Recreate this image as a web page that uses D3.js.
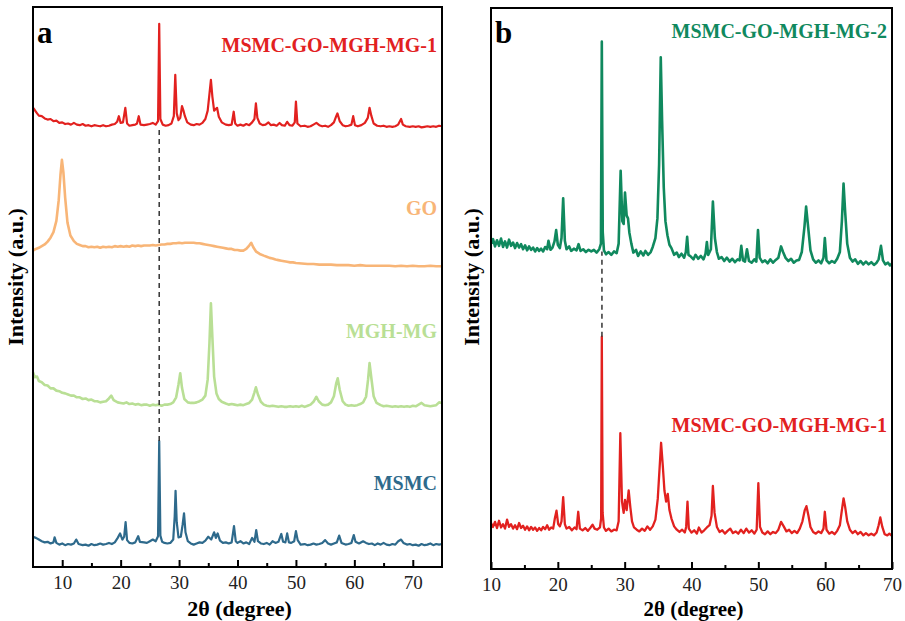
<!DOCTYPE html>
<html>
<head>
<meta charset="utf-8">
<script src="https://cdn.jsdelivr.net/npm/d3@7"></script>
<style>
  body { margin: 0; background: #fff; }
  svg { display: block; }
</style>
</head>
<body>
<div id="chart"></div>
<script>
// ---- data (2θ in degrees, intensity in stacked a.u.) ----
const msmc = [[5,5.4],[5.5,5.2],[6,4.9],[6.5,4.6],[7,4.4],[7.5,4.5],[8,4.2],[8.5,4.4],[8.7,5.3],[9,4.3],[9.5,4.0],[10,4.2],[10.5,3.9],[11,4.1],[11.5,4.0],[12,4.2],[12.4,4.9],[12.8,4.1],[13.5,3.9],[14,4.0],[14.5,3.8],[15,4.1],[15.5,3.9],[16,4.0],[16.5,4.2],[17,4.0],[17.5,4.1],[18,4.3],[18.5,4.1],[19,4.4],[19.5,5.2],[19.9,6.0],[20.3,4.9],[20.6,5.4],[20.85,8.0],[21.1,4.8],[21.5,4.3],[22,4.2],[22.5,4.4],[23,5.5],[23.3,4.5],[24,4.4],[24.5,4.3],[25,4.6],[25.5,4.9],[26,4.6],[26.4,5.5],[26.6,22.5],[26.8,5.6],[27.1,4.5],[27.5,4.3],[28,4.2],[28.5,4.3],[29,4.9],[29.25,9],[29.4,13.6],[29.6,8],[29.9,5.3],[30.3,5.4],[30.6,7.5],[30.85,9.6],[31.1,6.2],[31.5,4.6],[32,4.2],[32.5,4.0],[33,4.2],[33.5,4.4],[34,4.3],[34.5,4.7],[35,5.4],[35.5,4.9],[36,6.2],[36.3,5.2],[36.6,6.0],[37,4.7],[37.5,4.3],[38,4.4],[38.5,4.2],[39,4.4],[39.4,7.3],[39.7,4.6],[40,4.3],[40.5,4.6],[41,4.2],[41.5,4.4],[42,4.1],[42.5,5.2],[42.9,4.5],[43.2,6.6],[43.5,4.6],[44,4.2],[44.5,4.1],[45,4.3],[45.5,4.0],[46,4.6],[46.5,4.3],[47,4.5],[47.5,5.9],[47.8,4.5],[48.2,4.4],[48.5,6.0],[48.8,4.4],[49.2,4.3],[49.7,4.6],[50,6.4],[50.3,4.8],[50.8,4.0],[51.5,4.1],[52,3.9],[52.5,4.0],[53,4.2],[53.5,4.0],[54,4.1],[54.5,4.3],[55,4.8],[55.5,4.2],[56,4.0],[56.5,4.2],[57,4.4],[57.4,5.6],[57.8,4.3],[58.5,4.0],[59,4.1],[59.5,4.3],[59.9,5.7],[60.2,4.5],[60.8,4.2],[61.5,4.6],[62,4.3],[62.5,4.1],[63,4.2],[63.5,3.9],[64,4.2],[64.5,4.0],[65,4.3],[65.5,4.0],[66,3.9],[66.5,4.1],[67,4.0],[67.5,4.6],[68,4.9],[68.4,4.3],[69,4.0],[69.5,4.1],[70,3.9],[70.5,4.0],[71,3.8],[71.5,4.1],[72,3.9],[72.5,4.0],[73,4.2],[73.5,3.9],[74,4.1],[74.5,4.0],[75,4.1]];

const mghMg = [[5,34.8],[5.3,33.9],[5.7,34.0],[6,33.2],[6.5,33.0],[7,32.5],[7.5,32.4],[8,31.9],[8.5,31.9],[9,31.5],[9.5,31.4],[10,31.1],[10.5,31.0],[11,30.8],[11.5,30.6],[12,30.6],[12.5,30.3],[13,30.3],[13.5,30.0],[14,30.1],[14.5,29.8],[15,29.9],[15.5,29.6],[16,29.6],[16.5,29.4],[17,29.5],[17.5,29.6],[18,30.1],[18.4,30.6],[18.8,29.8],[19.5,29.4],[20,29.3],[20.5,29.2],[21,29.4],[21.5,29.1],[22,29.2],[22.5,29.0],[23,29.1],[23.5,28.9],[24,29.0],[24.5,29.0],[25,28.8],[25.5,29.0],[26,28.9],[26.5,29.0],[27,28.8],[27.5,29.0],[28,29.0],[28.5,29.1],[29,29.4],[29.5,30.3],[29.9,32.6],[30.2,34.6],[30.5,32.0],[30.9,30.0],[31.5,29.4],[32,29.3],[32.5,29.3],[33,29.4],[33.5,29.6],[34,29.9],[34.5,30.6],[34.9,33.5],[35.2,40.0],[35.45,47.1],[35.7,41.0],[36,34.0],[36.4,31.0],[36.8,30.0],[37.3,29.5],[38,29.2],[38.5,29.0],[39,29.1],[39.5,29.0],[40,28.9],[40.5,29.0],[41,28.9],[41.5,29.1],[42,29.3],[42.5,29.9],[42.9,31.2],[43.15,32.1],[43.5,30.8],[44,29.5],[44.5,29.0],[45,28.8],[45.5,28.7],[46,28.8],[46.5,28.7],[47,28.6],[47.5,28.7],[48,28.6],[48.5,28.6],[49,28.7],[49.5,28.6],[50,28.7],[50.5,28.6],[51,28.8],[51.5,28.6],[52,28.8],[52.5,29.0],[53,29.5],[53.5,30.4],[53.9,29.6],[54.5,29.0],[55,28.9],[55.5,29.0],[56,29.4],[56.5,30.5],[56.9,32.8],[57.15,33.7],[57.5,31.6],[58,29.6],[58.5,29.0],[59,28.8],[59.5,28.9],[60,28.8],[60.5,28.9],[61,29.1],[61.5,29.4],[62,30.4],[62.35,33.5],[62.6,36.4],[62.9,33.8],[63.3,30.5],[63.8,29.3],[64.5,28.9],[65,28.7],[65.5,28.8],[66,28.7],[66.5,28.6],[67,28.7],[67.5,28.6],[68,28.7],[68.5,28.6],[69,28.7],[69.5,28.6],[70,28.8],[70.5,28.7],[71,29.0],[71.5,29.3],[72,28.9],[72.5,28.8],[73,28.7],[73.5,28.8],[74,28.9],[74.5,29.4],[75,29.3]];

const go = [[5,56.5],[5.5,56.8],[6,57.0],[6.5,57.3],[7,57.6],[7.5,58.1],[8,58.8],[8.5,59.8],[9,61.8],[9.4,65.5],[9.7,70.0],[9.95,72.7],[10.2,70.5],[10.5,66.0],[10.9,61.5],[11.4,59.2],[12,58.2],[12.5,57.7],[13,57.5],[13.5,57.3],[14,57.3],[14.5,57.1],[15,57.2],[15.5,57.1],[16,57.2],[16.5,57.0],[17,57.2],[17.5,57.1],[18,57.2],[18.5,57.1],[19,57.3],[19.5,57.2],[20,57.3],[20.5,57.2],[21,57.3],[21.5,57.2],[22,57.4],[22.5,57.3],[23,57.4],[23.5,57.3],[24,57.4],[24.5,57.4],[25,57.4],[25.5,57.5],[26,57.4],[26.5,57.5],[27,57.6],[27.5,57.6],[28,57.7],[28.5,57.7],[29,57.8],[29.5,57.8],[30,57.9],[30.5,57.8],[31,57.9],[31.5,57.9],[32,57.9],[32.5,57.9],[33,57.8],[33.5,57.8],[34,57.7],[34.5,57.6],[35,57.5],[35.5,57.4],[36,57.3],[36.5,57.2],[37,57.1],[37.5,57.0],[38,56.9],[38.5,56.8],[39,56.8],[39.5,56.6],[40,56.6],[40.5,56.5],[41,56.5],[41.5,56.8],[42,57.4],[42.35,57.9],[42.7,57.1],[43.2,56.3],[43.8,55.9],[44.5,55.6],[45,55.4],[45.5,55.2],[46,55.1],[46.5,54.9],[47,54.8],[47.5,54.7],[48,54.6],[48.5,54.5],[49,54.4],[49.5,54.4],[50,54.3],[51,54.2],[52,54.1],[53,54.1],[54,54.0],[55,54.0],[56,54.0],[57,53.9],[58,53.9],[59,53.9],[60,53.8],[61,53.9],[62,53.8],[63,53.8],[64,53.8],[65,53.8],[66,53.8],[67,53.7],[68,53.8],[69,53.7],[70,53.8],[71,53.7],[72,53.7],[73,53.8],[74,53.7],[75,53.7]];

const mg1a = [[5,82.0],[5.3,81.6],[5.7,81.0],[6,80.6],[6.5,80.5],[7,80.1],[7.5,79.9],[8,80.0],[8.5,79.6],[9,79.7],[9.5,79.3],[10,79.4],[10.5,79.1],[11,79.2],[11.5,79.0],[12,79.3],[12.5,79.0],[13,78.9],[13.5,79.1],[14,78.8],[14.5,78.9],[15,78.7],[15.5,78.9],[16,78.8],[16.5,78.7],[17,78.9],[17.5,78.7],[18,78.8],[18.5,79.0],[19,79.1],[19.4,79.5],[19.7,80.5],[20,79.3],[20.4,79.4],[20.8,82.0],[21.1,79.2],[21.5,78.8],[22,78.9],[22.5,79.0],[22.8,79.2],[23.1,80.5],[23.4,79.0],[24,78.9],[24.5,79.0],[25,79.1],[25.5,79.3],[26,79.0],[26.4,79.6],[26.6,97.0],[26.8,80.0],[27.2,79.0],[27.7,78.8],[28.2,78.9],[28.7,79.2],[29.1,80.5],[29.35,87.9],[29.6,81.0],[29.9,79.8],[30.2,80.2],[30.5,82.3],[30.75,81.5],[31,80.5],[31.4,79.4],[32,79.0],[32.5,78.9],[33,79.1],[33.5,79.0],[34,79.3],[34.5,80.0],[34.9,81.5],[35.2,84.5],[35.45,87.0],[35.7,84.0],[36,81.5],[36.5,82.0],[36.8,80.4],[37.3,79.4],[38,79.0],[38.5,78.9],[39,79.0],[39.35,81.3],[39.6,79.2],[40,78.8],[40.5,79.0],[41,78.8],[41.5,79.1],[42,78.9],[42.5,79.4],[42.9,80.0],[43.15,82.8],[43.4,80.2],[43.8,79.2],[44.3,78.9],[44.8,79.0],[45.3,79.4],[45.7,78.9],[46.2,79.0],[46.7,78.8],[47.2,79.3],[47.6,78.9],[48.1,78.8],[48.5,79.5],[48.9,78.9],[49.4,78.8],[49.8,79.4],[50,83.1],[50.25,79.2],[50.8,78.7],[51.5,78.8],[52,78.6],[52.5,78.7],[53,79.0],[53.5,79.3],[54,78.9],[54.5,78.7],[55,78.8],[55.5,78.6],[56,78.9],[56.5,79.4],[56.9,80.5],[57.1,81.0],[57.5,79.6],[58,78.9],[58.5,78.7],[59,78.8],[59.5,79.0],[59.8,80.5],[60.1,78.9],[60.6,78.7],[61.2,78.9],[61.8,79.3],[62.3,80.2],[62.6,82.0],[62.9,80.6],[63.3,79.2],[63.9,78.8],[64.5,78.7],[65,78.8],[65.5,78.6],[66,78.7],[66.5,78.6],[67,78.7],[67.5,79.0],[68,80.0],[68.3,79.0],[68.8,78.7],[69.5,78.6],[70,78.7],[70.5,78.6],[71,78.7],[71.5,78.5],[72,78.6],[72.5,78.7],[73,78.6],[73.5,78.7],[74,78.6],[74.5,78.8],[75,78.7]];

const mg2b = [[10,58.0],[10.3,58.8],[10.6,57.5],[10.9,58.6],[11.2,57.6],[11.5,58.9],[11.8,57.4],[12.1,58.4],[12.4,57.3],[12.7,58.7],[13,57.6],[13.3,58.2],[13.6,57.2],[13.9,58.1],[14.2,57.3],[14.5,57.9],[14.8,57.0],[15.1,57.7],[15.4,56.8],[15.7,57.5],[16,56.9],[16.3,57.3],[16.6,56.6],[16.9,57.2],[17.2,56.7],[17.5,57.1],[17.8,56.6],[18.1,57.4],[18.4,57.0],[18.6,58.5],[18.9,56.9],[19.2,57.3],[19.5,58.4],[19.75,60.4],[20,57.8],[20.3,57.2],[20.55,59.0],[20.8,66.1],[21.05,58.5],[21.3,57.0],[21.7,57.5],[22,56.7],[22.4,57.1],[22.8,56.8],[23.1,57.9],[23.4,56.7],[23.8,57.0],[24.2,56.5],[24.6,56.9],[25,56.6],[25.4,56.9],[25.8,56.4],[26.2,57.0],[26.45,58],[26.58,94.0],[26.72,60],[26.9,56.8],[27.2,56.1],[27.6,56.5],[28,56.0],[28.4,56.6],[28.8,56.3],[29.1,58.0],[29.4,71.0],[29.65,62.0],[29.85,61.5],[30.05,67.1],[30.3,63.0],[30.5,62.5],[30.7,60.0],[31,58.0],[31.3,56.4],[31.7,56.9],[32,55.8],[32.4,56.6],[32.8,55.9],[33.1,56.7],[33.5,56.0],[33.9,56.5],[34.2,57.4],[34.6,59.0],[34.9,62.5],[35.15,72.0],[35.4,91.2],[35.6,80.0],[35.85,68.0],[36.1,62.0],[36.4,59.5],[36.7,57.8],[37,57.2],[37.4,56.0],[37.8,56.4],[38.1,55.6],[38.5,56.2],[38.9,55.5],[39.15,56.5],[39.35,59.2],[39.55,56.0],[39.9,55.7],[40.3,55.2],[40.6,56.0],[41,55.3],[41.4,55.8],[41.8,55.2],[42.1,56.2],[42.3,58.3],[42.5,56.0],[42.9,57.0],[43.2,65.5],[43.5,59.0],[43.8,56.5],[44.1,55.3],[44.5,55.6],[44.9,54.9],[45.3,55.5],[45.7,54.8],[46.1,55.3],[46.5,54.7],[46.9,55.2],[47.2,55.0],[47.45,57.6],[47.7,55.0],[48,54.8],[48.3,57.0],[48.6,54.9],[49,54.6],[49.4,55.2],[49.7,54.8],[49.95,60.4],[50.2,55.5],[50.6,54.7],[51,55.0],[51.4,54.5],[51.8,55.2],[52.2,54.6],[52.6,55.1],[53,55.5],[53.4,57.5],[53.7,56.5],[54.1,55.4],[54.5,54.9],[54.9,55.3],[55.3,54.6],[55.7,55.0],[56.1,55.1],[56.5,56.5],[56.9,61.0],[57.15,64.6],[57.45,61.0],[57.8,56.8],[58.2,55.2],[58.6,54.6],[59,55.0],[59.4,54.5],[59.75,55.5],[59.95,59.0],[60.2,55.0],[60.6,54.5],[61,54.9],[61.4,54.6],[61.8,55.3],[62.2,56.5],[62.5,62.0],[62.75,68.7],[63,63.5],[63.3,58.0],[63.7,55.5],[64.1,54.8],[64.5,55.2],[64.9,54.4],[65.3,54.9],[65.7,54.3],[66.1,54.8],[66.5,54.3],[66.9,54.7],[67.3,54.2],[67.7,54.6],[68,55.2],[68.35,57.6],[68.65,55.0],[69,54.3],[69.4,54.6],[69.7,54.1],[70,54.5]];

const mg1b = [[10,8.2],[10.3,7.5],[10.6,8.4],[10.9,7.3],[11.2,8.6],[11.5,7.4],[11.8,8.0],[12.1,7.2],[12.4,8.8],[12.7,7.5],[13,8.0],[13.3,7.2],[13.6,7.8],[13.9,7.1],[14.2,8.2],[14.5,7.3],[14.8,7.7],[15.1,7.0],[15.4,7.6],[15.7,6.9],[16,7.5],[16.3,7.0],[16.6,7.4],[16.9,6.8],[17.2,7.3],[17.5,6.9],[17.8,7.5],[18.1,7.1],[18.4,7.8],[18.7,7.0],[19,7.4],[19.3,7.2],[19.55,9.0],[19.8,10.4],[20.05,8.0],[20.3,7.6],[20.55,8.5],[20.8,12.8],[21.05,8.0],[21.3,7.2],[21.7,7.5],[22.1,6.9],[22.5,7.4],[22.8,7.1],[23.05,10.2],[23.3,7.2],[23.7,6.9],[24.1,7.3],[24.5,6.8],[24.9,7.4],[25.2,7.9],[25.5,7.2],[25.9,7.0],[26.3,7.4],[26.48,9],[26.58,41.4],[26.7,10],[26.9,7.4],[27.2,6.8],[27.6,7.2],[28,6.7],[28.4,7.0],[28.8,6.9],[29.1,8.5],[29.35,24.2],[29.6,12.0],[29.85,10.0],[30.05,12.3],[30.3,10.5],[30.6,14.0],[30.85,11.0],[31.1,8.5],[31.4,7.4],[31.8,7.0],[32.2,6.7],[32.6,7.2],[33,6.8],[33.4,7.6],[33.8,7.0],[34.2,7.6],[34.6,8.8],[34.95,12.5],[35.2,17.5],[35.45,22.5],[35.7,18.5],[35.95,14.0],[36.2,12.0],[36.45,13.4],[36.7,10.5],[37,9.0],[37.4,7.6],[37.8,7.0],[38.2,6.6],[38.6,7.0],[39,6.5],[39.2,7.5],[39.4,12.0],[39.6,7.2],[40,6.5],[40.4,6.9],[40.8,6.3],[41.1,7.4],[41.5,6.5],[41.9,6.9],[42.3,7.4],[42.7,7.8],[43,9.5],[43.2,14.8],[43.45,10.0],[43.8,7.5],[44.2,6.6],[44.6,6.9],[45,6.3],[45.4,6.8],[45.8,7.2],[46.2,6.4],[46.6,6.7],[47,6.3],[47.4,7.0],[47.8,6.4],[48.2,7.2],[48.6,6.5],[49,6.9],[49.4,6.3],[49.75,7.0],[50,15.3],[50.25,7.5],[50.6,6.5],[51,6.2],[51.4,6.7],[51.8,6.2],[52.2,6.6],[52.6,6.4],[53,7.0],[53.4,8.4],[53.8,7.6],[54.2,6.7],[54.6,7.0],[55,6.4],[55.4,6.8],[55.8,6.4],[56.2,7.2],[56.6,8.5],[56.95,10.5],[57.2,11.2],[57.5,9.5],[57.8,7.5],[58.2,6.6],[58.6,6.3],[59,6.7],[59.4,6.4],[59.75,7.2],[59.95,10.2],[60.2,7.0],[60.6,6.3],[61,6.6],[61.4,6.2],[61.8,6.8],[62.2,7.8],[62.5,10.5],[62.75,12.6],[63,11.0],[63.3,8.5],[63.7,7.0],[64.1,6.4],[64.5,6.8],[64.9,6.2],[65.3,6.6],[65.7,6.0],[66.1,6.4],[66.5,6.0],[66.9,6.3],[67.3,6.0],[67.7,6.5],[68,7.8],[68.25,9.2],[68.55,7.5],[68.9,6.2],[69.3,6.0],[69.6,6.3],[70,5.9]];

// quartz (26.6°) guide lines: [2θ, from, to]
const guideA = [26.6, 22.5, 78.6];
const guideB = [26.6, 41.4, 56.6];

const ticksA = [10, 20, 30, 40, 50, 60, 70];
const minorA = [15, 25, 35, 45, 55, 65];
const ticksB = [10, 20, 30, 40, 50, 60, 70];
const minorB = [15, 25, 35, 45, 55, 65];

const FONT = "'Liberation Serif'";
const W = 905, H = 621;

const svg = d3.select('#chart').append('svg')
    .attr('width', W)
    .attr('height', H);
svg.append('rect').attr('width', W).attr('height', H).attr('fill', '#fff');

const panels = [
    {
        letter: 'a', box: [33, 442, 7, 567], domain: [5, 75],
        ticks: ticksA, minor: minorA, guide: guideA, yTitleX: 23, titleSize: 22,
        series: [
            { data: msmc, color: '#2e6a8c', width: 2.2, label: 'MSMC', ly: 490 },
            { data: mghMg, color: '#b9df95', width: 2.6, label: 'MGH-MG', ly: 338 },
            { data: go, color: '#f8b577', width: 2.6, label: 'GO', ly: 215 },
            { data: mg1a, color: '#e2211f', width: 2.2, label: 'MSMC-GO-MGH-MG-1', ly: 52 },
        ],
    },
    {
        letter: 'b', box: [491, 892, 8, 569], domain: [10, 70],
        ticks: ticksB, minor: minorB, guide: guideB, yTitleX: 479, titleSize: 21,
        series: [
            { data: mg1b, color: '#e2211f', width: 2.3, label: 'MSMC-GO-MGH-MG-1', ly: 432 },
            { data: mg2b, color: '#10895e', width: 2.6, label: 'MSMC-GO-MGH-MG-2', ly: 38 },
        ],
    },
];

panels.forEach((p) => {
    const [x0, x1, y0, y1] = p.box;
    const x = d3.scaleLinear().domain(p.domain).range([x0, x1]);
    const y = d3.scaleLinear().domain([0, 100]).range([y1, y0]);
    const g = svg.append('g');

    const line = d3.line().x((d) => x(d[0])).y((d) => y(d[1]));
    p.series.forEach((s) => {
        g.append('path')
            .datum(s.data)
            .attr('fill', 'none')
            .attr('stroke', s.color)
            .attr('stroke-width', s.width)
            .attr('stroke-linejoin', 'round')
            .attr('d', line);
        g.append('text')
            .attr('x', x1 - 5)
            .attr('y', s.ly)
            .attr('text-anchor', 'end')
            .style('font-family', FONT)
            .attr('fill', s.color)
            .attr('font-weight', 'bold')
            .attr('font-size', 20)
            .text(s.label);
    });

    g.append('line')
        .attr('x1', x(p.guide[0])).attr('x2', x(p.guide[0]))
        .attr('y1', y(p.guide[1])).attr('y2', y(p.guide[2]))
        .attr('stroke', '#333')
        .attr('stroke-width', 1.5)
        .attr('stroke-dasharray', '5,4');

    // bottom axis with inward ticks
    const axis = g.append('g')
        .attr('transform', `translate(0,${y1})`)
        .call(d3.axisBottom(x).tickValues(p.ticks).tickSize(-7).tickPadding(9).tickFormat(d3.format('d')));
    axis.select('.domain').remove();
    axis.selectAll('line').attr('stroke', '#000').attr('stroke-width', 2);
    axis.selectAll('text')
        .style('font-family', FONT)
        .attr('font-size', 19)
        .attr('fill', '#222');
    const minorAxis = g.append('g')
        .attr('transform', `translate(0,${y1})`)
        .call(d3.axisBottom(x).tickValues(p.minor).tickSize(-4).tickFormat(''));
    minorAxis.select('.domain').remove();
    minorAxis.selectAll('line').attr('stroke', '#000').attr('stroke-width', 2);

    g.append('rect')
        .attr('x', x0).attr('y', y0)
        .attr('width', x1 - x0).attr('height', y1 - y0)
        .attr('fill', 'none')
        .attr('stroke', '#000')
        .attr('stroke-width', 2);

    g.append('text')
        .attr('x', x0 + 4)
        .attr('y', 43)
        .style('font-family', FONT)
        .attr('font-weight', 'bold')
        .attr('font-size', 31)
        .text(p.letter);

    g.append('text')
        .attr('x', (x0 + x1) / 2 + 2)
        .attr('y', 616)
        .attr('text-anchor', 'middle')
        .style('font-family', FONT)
        .attr('font-weight', 'bold')
        .attr('font-size', p.titleSize)
        .text('2θ (degree)');

    g.append('text')
        .attr('transform', `translate(${p.yTitleX},277) rotate(-90)`)
        .attr('text-anchor', 'middle')
        .style('font-family', FONT)
        .attr('font-weight', 'bold')
        .attr('font-size', 22)
        .text('Intensity (a.u.)');
});
</script>
</body>
</html>
